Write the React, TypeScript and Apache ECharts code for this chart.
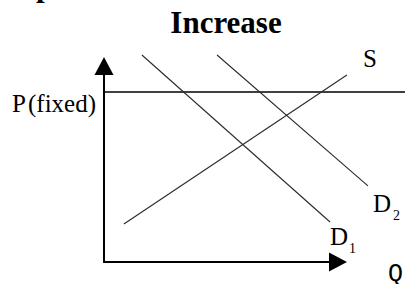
import React, { useEffect, useRef } from "react";
import * as echarts from "echarts";

// Conceptual supply/demand diagram values (arbitrary units, x: 0..10, y: 0..10 on the drawn axes)
const supplyS: number[][] = [
  [0.85, 1.94],
  [10.38, 9.54],
];
const demandD1: number[][] = [
  [1.62, 10.56],
  [9.66, 2.04],
];
const demandD2: number[][] = [
  [4.83, 10.56],
  [11.28, 3.88],
];
const priceFixed = 8.67;
const priceLine: number[][] = [
  [0, priceFixed],
  [13, priceFixed],
];

const SERIF = "'Liberation Serif', 'Times New Roman', serif";
const MONO = "'Liberation Mono', 'Courier New', monospace";

function txt(text: string, x: number, y: number, font: string, align = "left") {
  return {
    type: "text",
    x,
    y,
    silent: true,
    style: {
      text,
      font,
      fill: "#000",
      align,
      verticalAlign: "middle",
      textAlign: align,
      textVerticalAlign: "middle",
    },
  };
}

// geometry of the drawn axes (grid 0) and of the wider drawing area (grid 1)
const G0 = { left: 104, top: 66, width: 234, height: 196 };
const G1 = { left: 104, top: 0, width: 301, height: 262 };

export default function App() {
  const ref = useRef<HTMLDivElement>(null);
  useEffect(() => {
    if (!ref.current) return;
    const chart = echarts.init(ref.current, null, { renderer: "svg" });
    const curveStyle = { color: "#2a2a2a", width: 1.1, type: "solid" as const };
    const hiddenAxis = {
      type: "value" as const,
      show: false,
      axisLine: { show: false },
      axisTick: { show: false },
      axisLabel: { show: false },
      splitLine: { show: false },
    };
    const arrowAxis = {
      type: "value" as const,
      min: 0,
      max: 10,
      axisLine: {
        show: true,
        onZero: false,
        symbol: ["none", "triangle"],
        symbolSize: [19, 18],
        lineStyle: { color: "#000", width: 2 },
      },
      axisTick: { show: false },
      axisLabel: { show: false },
      splitLine: { show: false },
    };
    const xMax1 = (10 * G1.width) / G0.width;
    const yMax1 = (10 * G1.height) / G0.height;
    const line = (name: string, data: number[][], style: object) => ({
      name,
      type: "line",
      xAxisIndex: 1,
      yAxisIndex: 1,
      data,
      showSymbol: false,
      clip: false,
      lineStyle: style,
    });
    chart.setOption({
      animation: false,
      backgroundColor: "#fff",
      grid: [G0, G1],
      xAxis: [
        { ...arrowAxis, gridIndex: 0 },
        { ...hiddenAxis, gridIndex: 1, min: 0, max: xMax1 },
      ],
      yAxis: [
        { ...arrowAxis, gridIndex: 0 },
        { ...hiddenAxis, gridIndex: 1, min: 0, max: yMax1 },
      ],
      series: [
        line("P (fixed)", priceLine, { color: "#000", width: 1.6 }),
        line("S", supplyS, curveStyle),
        line("D1", demandD1, curveStyle),
        line("D2", demandD2, curveStyle),
      ],
      graphic: [
        txt("p", 36, -15, `bold 31px ${SERIF}`),
        txt("Increase", 226, 22.5, `bold 31px ${SERIF}`, "center"),
        txt("P", 12, 103.6, `25px ${SERIF}`),
        txt("(fixed)", 28, 103.6, `25px ${SERIF}`),
        txt("S", 363, 58.6, `25px ${SERIF}`),
        txt("D", 373, 203.6, `25px ${SERIF}`),
        txt("2", 393, 215.3, `14px ${SERIF}`),
        txt("D", 330, 236.6, `25px ${SERIF}`),
        txt("1", 349, 248.3, `14px ${SERIF}`),
        txt("Q", 388, 274.8, `25px ${MONO}`),
      ],
    });
    return () => chart.dispose();
  }, []);
  return (
    <div
      ref={ref}
      style={{ position: "absolute", left: 0, top: 0, width: 405, height: 284 }}
    />
  );
}
